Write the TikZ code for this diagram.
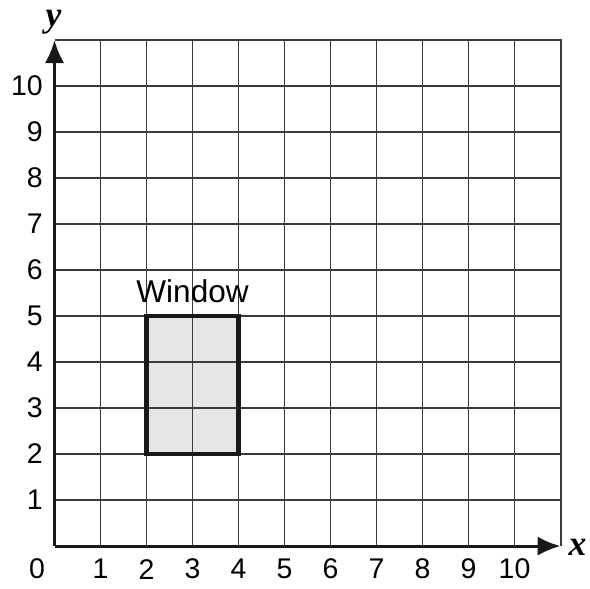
\documentclass[tikz,border=0pt]{standalone}
\usepackage{fontspec}
\setmainfont{Liberation Sans}
\newfontfamily\axfont{Liberation Serif}
\usetikzlibrary{arrows.meta}
\definecolor{gridc}{HTML}{3A3A3A}
\definecolor{winfill}{HTML}{E4E5E7}
\begin{document}
\begin{tikzpicture}[
  gridline/.style={draw=gridc, line width=0.85pt},
  axisline/.style={draw=black!90, line width=1.9pt, -{Latex[length=5mm,width=4.2mm]}},
  ticklab/.style={font=\fontsize{17.6}{20}\selectfont, inner sep=0pt},
  axlab/.style={font=\fontsize{22}{24}\axfont\bfseries\itshape, inner sep=0pt},
]
\useasboundingbox (-1.185,-0.913) rectangle (11.64,11.87);
\fill[winfill] (2,2) rectangle (4,5);
\foreach \i in {1,...,10} {
  \draw[gridline] (\i,0) -- (\i,11);
  \draw[gridline] (0,\i) -- (11,\i);
}
\draw[draw=gridc, line width=1.2pt] (0,11) -- (11,11) -- (11,0);
\node[draw=black!90, line width=2.6pt, minimum width=2cm, minimum height=3cm, inner sep=0pt, outer sep=0pt, anchor=south west] (win) at (2,2) {};
\node[font=\fontsize{19.5}{22}\selectfont, inner sep=0pt, anchor=base] (winlab) at (3,5.3) {Window};
\coordinate (O) at (0,0);
\coordinate (X) at (11,0);
\coordinate (Y) at (0,11);
\draw[axisline] (O) -- (X);
\draw[axisline] (O) -- (Y);
\node[axlab] (xl) at (11.37,-0.02) {x};
\node[axlab] (yl) at (-0.02,11.38) {y};
\node[ticklab] (x0) at (-0.38,-0.5) {0};
\foreach \i in {1,...,10} {
  \node[ticklab] (x\i) at (\i,-0.5) {\i};
  \node[ticklab, anchor=east] (y\i) at (-0.25,\i) {\i};
}
\end{tikzpicture}
\end{document}
